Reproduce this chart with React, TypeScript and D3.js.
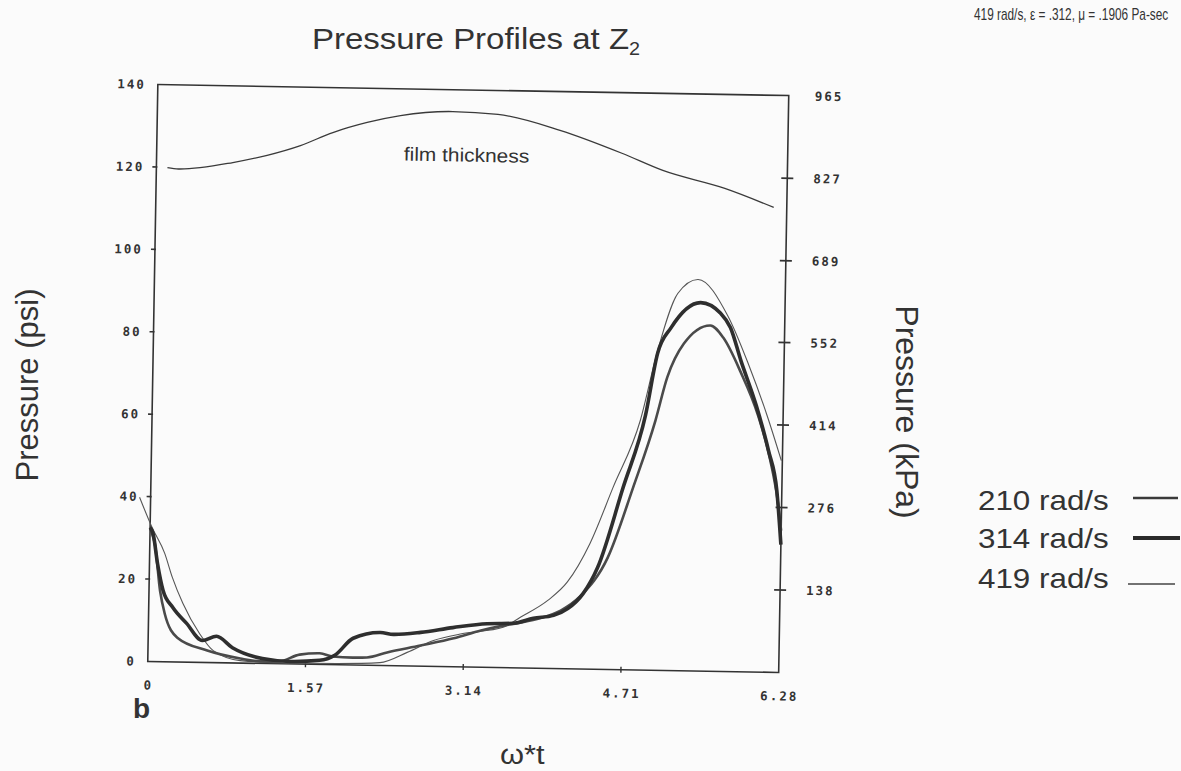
import React from "react";
import * as d3 from "d3";

// ---- tick values / labels ----
const xTickValues = [0, 1.57, 3.14, 4.71, 6.28];
const xTickLabels = ["0", "1.57", "3.14", "4.71", "6.28"];
const psiTickValues = [0, 20, 40, 60, 80, 100, 120, 140];
const kpaTickValues = [138, 276, 414, 552, 689, 827, 965];
const kpaTickLabels = ["138", "276", "414", "552", "689", "827", "965"];

// ---- series (x = omega*t, y = psi) ----
const filmThickness: [number, number][] = [
  [0.11, 119.9], [0.22, 119.6], [0.76, 121.4], [1.1, 123.3], [1.43, 125.8],
  [1.75, 129.1], [2.09, 131.7], [2.42, 133.5], [2.94, 134.7], [3.39, 134.2],
  [4.01, 130.6], [4.63, 125.3], [5.04, 121.3], [5.66, 117.2], [6.15, 112.8],
];

const rad210: [number, number][] = [
  [0.0, 32.5], [0.03, 30.3], [0.05, 28.6], [0.11, 17.2], [0.16, 11.7], [0.29, 5.9],
  [0.59, 2.9], [0.92, 1.1], [1.12, 0.5], [1.31, 0.6], [1.51, 2.3], [1.71, 2.7],
  [1.84, 2.0], [2.04, 1.8], [2.18, 1.9], [2.38, 3.2], [2.71, 5.0], [3.04, 6.9],
  [3.31, 8.9], [3.53, 10.2], [3.7, 11.0], [3.9, 12.2], [4.1, 14.1], [4.29, 17.6],
  [4.56, 27.2], [4.8, 44.3], [5.01, 60.6], [5.12, 71.1], [5.28, 79.4], [5.54, 83.9],
  [5.67, 81.0], [5.85, 72.7], [6.03, 62.3], [6.16, 51.4], [6.24, 41.7], [6.28, 34.4],
];

const rad314: [number, number][] = [
  [0.0, 32.5], [0.03, 31.1], [0.08, 23.8], [0.14, 17.3], [0.24, 13.2], [0.38, 9.4],
  [0.54, 5.3], [0.68, 6.4], [0.84, 3.7], [1.14, 1.2], [1.41, 0.6], [1.71, 1.0],
  [1.86, 2.3], [2.04, 6.5], [2.31, 8.0], [2.44, 7.6], [2.71, 8.2], [3.03, 9.5],
  [3.37, 10.6], [3.63, 10.8], [3.83, 12.1], [4.03, 12.9], [4.17, 14.6], [4.32, 18.3],
  [4.46, 24.7], [4.7, 44.2], [4.91, 61.8], [5.02, 76.9], [5.15, 83.2], [5.44, 89.4],
  [5.64, 86.9], [5.74, 83.5], [5.85, 75.5], [6.01, 64.7], [6.14, 53.8], [6.23, 44.1],
  [6.28, 31.0],
];

const rad419: [number, number][] = [
  [-0.11, 39.8], [0.02, 32.5], [0.15, 26.3], [0.23, 20.5], [0.34, 14.2], [0.51, 7.0],
  [0.65, 2.9], [0.92, 0.6], [1.4, 0.2], [1.88, 0.3], [2.31, 0.7], [2.58, 3.3],
  [2.84, 6.3], [3.13, 8.1], [3.53, 9.8], [3.7, 12.3], [3.97, 16.5], [4.16, 21.0],
  [4.38, 30.5], [4.6, 44.2], [4.86, 60.6], [5.02, 77.6], [5.21, 91.5], [5.41, 95.0],
  [5.71, 86.4], [5.93, 74.4], [6.12, 62.3], [6.27, 51.4],
];

const legendLabels = ["210 rad/s", "314 rad/s", "419 rad/s"];

export default function App() {
  const L = 152.75, R = 783.75, T = 90, B = 667;
  const cx = (L + R) / 2, cy = (T + B) / 2;
  const x = d3.scaleLinear().domain([0, 6.28]).range([L, R]);
  const y = d3.scaleLinear().domain([0, 140]).range([B, T]);
  const yk = d3.scaleLinear().domain([0, 140 * 6.895]).range([B, T]);
  const line = d3
    .line<[number, number]>()
    .x((d) => x(d[0]))
    .y((d) => y(d[1]))
    .curve(d3.curveMonotoneX);

  const tickFont = {
    fontFamily: "DejaVu Sans Mono",
    fontWeight: 700 as const,
    fontSize: 12.5,
    letterSpacing: 2,
    fill: "#333",
  };
  const sans = "Liberation Sans, Arial, sans-serif";
  const ink = "#333";

  return (
    <svg
      width={1181}
      height={771}
      style={{ position: "absolute", left: 0, top: 0 }}
      xmlns="http://www.w3.org/2000/svg"
    >
      <rect x={0} y={0} width={1181} height={771} fill="#fbfbfb" />

      {/* top right note */}
      <g transform="translate(974,20) scale(0.74,1)">
        <text x={0} y={0} fontFamily={sans} fontSize={16} fill={ink}>
          419 rad/s, ε = .312, μ = .1906  Pa-sec
        </text>
      </g>

      {/* title */}
      <g transform="translate(312,49) scale(1.1,1)">
        <text x={0} y={0} fontFamily={sans} fontSize={30} fill={ink}>
          Pressure Profiles at Z
          <tspan fontSize={18} dy={6}>2</tspan>
        </text>
      </g>

      {/* axis titles */}
      <text
        transform="translate(38,385) rotate(-90)"
        textAnchor="middle"
        fontFamily={sans}
        fontSize={31}
        fill={ink}
      >
        Pressure (psi)
      </text>
      <text
        transform="translate(896,412) rotate(90)"
        textAnchor="middle"
        fontFamily={sans}
        fontSize={32}
        fill={ink}
      >
        Pressure (kPa)
      </text>
      <g transform="translate(500,764) scale(1.1,1)">
        <text x={0} y={0} fontFamily={sans} fontSize={28} fill={ink}>
          ω*t
        </text>
      </g>
      <text x={133} y={718} fontFamily={sans} fontSize={28} fontWeight={700} fill={ink}>
        b
      </text>

      {/* plot (scanned page is slightly rotated) */}
      <g transform={`rotate(1, ${cx}, ${cy})`}>
        {/* frame */}
        <rect x={L} y={T} width={R - L} height={B - T} fill="none" stroke="#333" strokeWidth={1.6} />

        {/* left ticks */}
        {psiTickValues.map((v) => (
          <g key={"l" + v}>
            {v > 0 && v < 140 && (
              <line x1={L - 4} x2={L + 1} y1={y(v)} y2={y(v)} stroke="#333" strokeWidth={1.6} />
            )}
            <text x={L - 12} y={y(v) + 4.5} textAnchor="end" {...tickFont}>
              {String(v)}
            </text>
          </g>
        ))}

        {/* right ticks */}
        {kpaTickValues.map((v, i) => (
          <g key={"r" + v}>
            {v < 965 && (
              <line x1={R - 6} x2={R + 6} y1={yk(v)} y2={yk(v)} stroke="#333" strokeWidth={1.8} />
            )}
            <text x={R + 26} y={yk(v) + 4.5} textAnchor="start" {...tickFont}>
              {kpaTickLabels[i]}
            </text>
          </g>
        ))}

        {/* bottom ticks */}
        {xTickValues.map((v, i) => (
          <g key={"b" + v}>
            {i > 0 && i < xTickValues.length - 1 && (
              <line x1={x(v)} x2={x(v)} y1={B - 3} y2={B + 3} stroke="#333" strokeWidth={1.4} />
            )}
            <text x={x(v) + 1} y={B + 28} textAnchor="middle" {...tickFont}>
              {xTickLabels[i]}
            </text>
          </g>
        ))}

        {/* film thickness */}
        <path d={line(filmThickness) || ""} fill="none" stroke="#3a3a3a" strokeWidth={1.3} />
        <g transform={`translate(${x(2.46)},${y(122.6)}) scale(1.1,1)`}>
          <text x={0} y={0} fontFamily={sans} fontSize={19} fill={ink}>
            film thickness
          </text>
        </g>

        {/* pressure curves */}
        <path d={line(rad419) || ""} fill="none" stroke="#555" strokeWidth={1.1} />
        <path d={line(rad210) || ""} fill="none" stroke="#4a4a4a" strokeWidth={2.6} />
        <path d={line(rad314) || ""} fill="none" stroke="#2e2e2e" strokeWidth={3.6} />
      </g>

      {/* legend */}
      {legendLabels.map((lab, i) => (
        <g key={lab} transform={`translate(978,${[510, 548, 588][i]}) scale(1.12,1)`}>
          <text x={0} y={0} fontFamily={sans} fontSize={28} fill={ink}>
            {lab}
          </text>
        </g>
      ))}
      <line x1={1133} x2={1178} y1={498} y2={498} stroke="#3a3a3a" strokeWidth={2.6} />
      <line x1={1133} x2={1180} y1={538} y2={538} stroke="#2a2a2a" strokeWidth={4} />
      <line x1={1128} x2={1175} y1={584} y2={584} stroke="#444" strokeWidth={1.3} />
    </svg>
  );
}
